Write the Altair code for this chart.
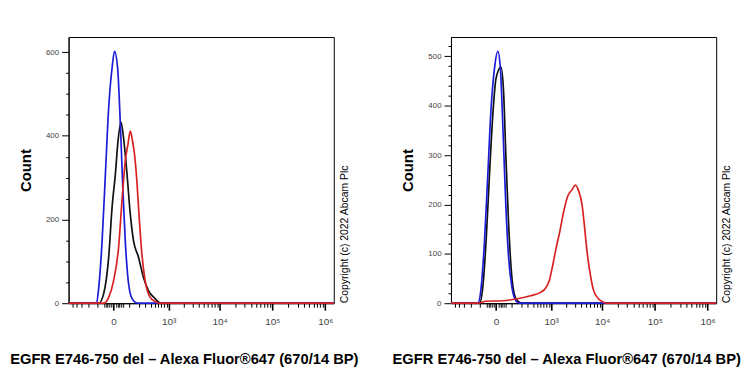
import altair as alt
import pandas as pd

X_MIN, X_MAX = -610, 1450000
W, H = 267, 268

# ---- left panel data (fluorescence value, count) ----
left_blue_x = [X_MIN, -111, -91, -65, -43, -24, -7, 4, 19, 34, 50, 66, 83, 106, 138, 179, X_MAX]
left_blue_y = [0, 0, 38, 149, 309, 467, 562, 602, 562, 428, 268, 149, 71, 23, 6, 0, 0]
left_black_x = [X_MIN, -91, -54, -24, -7, 8, 21, 38, 54, 79, 106, 138, 195, 266, 355, 508, 655, 837, X_MAX]
left_black_y = [0, 0, 23, 110, 229, 309, 387, 433, 395, 309, 214, 149, 110, 62, 30, 11, 1, 0, 0]
left_red_x = [X_MIN, -54, -24, 0, 24, 44, 66, 87, 106, 128, 148, 175, 204, 242, 294, 390, 508, 655, X_MAX]
left_red_y = [0, 0, 14, 54, 133, 245, 340, 380, 411, 387, 356, 292, 205, 118, 54, 14, 4, 0, 0]

# ---- right panel data ----
right_blue_x = [X_MIN, -120, -91, -65, -43, -24, -7, 8, 21, 38, 54, 73, 100, 137, 175, X_MAX]
right_blue_y = [0, 0, 32, 126, 260, 394, 475, 510, 475, 327, 193, 93, 32, 5, 0, 0]
right_black_x = [X_MIN, -105, -78, -54, -33, -15, 0, 24, 39, 54, 73, 97, 121, 155, 217, X_MAX]
right_black_y = [0, 0, 32, 126, 260, 381, 455, 478, 428, 294, 160, 59, 19, 5, 0, 0]
right_red_x = [X_MIN, -120, -56, 34, 155, 347, 589, 755, 916, 1056, 1233, 1511, 1814, 2175,
               2640, 3060, 3556, 4120, 4556, 5136, 5940, 6880, 8570, 10660, 12310, X_MAX]
right_red_y = [0, 0, 4, 5, 9, 15, 22, 30, 46, 72, 106, 146, 187, 217,
               230, 239, 227, 200, 160, 106, 59, 26, 9, 2, 0, 0]

# ---- axis ticks / labels ----
x_major = [0, 1000, 10000, 100000, 1000000]
x_minor = ([-500, -400, -300, -200, -100, -50, -40, -30, -20, -10, 10, 20, 30, 40, 50]
           + list(range(100, 1000, 100))
           + [k * 10 ** e for e in (3, 4, 5) for k in range(2, 10)])
x_labels = ["0", "10³", "10⁴", "10⁵", "10⁶"]

x_title = "EGFR E746-750 del \u2013 Alexa Fluor®647 (670/14 BP)"
y_title = "Count"
copyright_text = "Copyright (c) 2022 Abcam Plc"

COLORS = {"blue": "#1c1cd8", "black": "#111111", "red": "#d82222"}
FONT = "Liberation Sans"

major_test = "indexof([0,1000,10000,100000,1000000], datum.value) >= 0"
label_expr = " : ".join(
    f"datum.value == {v} ? '{l}'" for v, l in zip(x_major, x_labels)
) + " : ''"


def panel(series, ymax, ystep, ylabstep):
    xscale = alt.Scale(type="symlog", constant=100, domain=[X_MIN, X_MAX], nice=False)
    xaxis = alt.Axis(
        values=sorted(x_major + x_minor), labelExpr=label_expr, grid=False,
        tickSize={"condition": {"test": major_test, "value": 7}, "value": 4},
        tickWidth={"condition": {"test": major_test, "value": 1.6}, "value": 1},
        tickColor="black", domainColor="black", labelOverlap=False, labelFlush=False,
        labelFont=FONT, labelFontSize=10, labelColor="#444", labelPadding=6,
        title=x_title, titleFont=FONT, titleFontSize=14.8, titleFontWeight="bold",
        titleColor="black", titleX=116, titleY=61, titleBaseline="alphabetic",
    )
    yvals = list(range(0, int(ymax) + 1, ystep))
    yaxis = alt.Axis(
        values=yvals, grid=False, labelOverlap=False,
        labelExpr=f"datum.value % {ylabstep} == 0 ? datum.label : ''",
        tickSize={"condition": {"test": f"datum.value % {ylabstep} == 0", "value": 7}, "value": 3},
        tickColor="black", domainColor="black", labelFont=FONT, labelFontSize=8,
        labelColor="#444", labelPadding=3,
        title=y_title, titleFont=FONT, titleFontSize=15, titleFontWeight="bold",
        titleColor="black", titlePadding=12,
    )
    yscale = alt.Scale(domain=[0, ymax], nice=False)
    layers = []
    for xs, ys, col in series:
        df = pd.DataFrame({"x": xs, "y": ys})
        layers.append(
            alt.Chart(df).mark_line(color=COLORS[col], strokeWidth=1.7, interpolate="monotone").encode(
                x=alt.X("x:Q", scale=xscale, axis=xaxis),
                y=alt.Y("y:Q", scale=yscale, axis=yaxis),
            )
        )
    cp = alt.Chart(pd.DataFrame({"t": [copyright_text]})).mark_text(
        angle=270, align="left", baseline="middle", font=FONT, fontSize=10.5, color="black"
    ).encode(x=alt.value(W + 11), y=alt.value(H), text="t:N")
    return alt.layer(*layers, cp).properties(width=W, height=H)


left = panel(
    [(left_black_x, left_black_y, "black"), (left_blue_x, left_blue_y, "blue"),
     (left_red_x, left_red_y, "red")],
    636, 50, 200,
)
right = panel(
    [(right_black_x, right_black_y, "black"), (right_blue_x, right_blue_y, "blue"),
     (right_red_x, right_red_y, "red")],
    539, 20, 100,
)

chart = alt.hconcat(left, right, spacing=118, bounds="flush").properties(
    padding={"left": 0, "top": 27, "right": 0, "bottom": 0}
).configure_view(stroke="black", strokeWidth=1)

chart.save("out.html", embed_options={"renderer": "svg", "actions": False})
